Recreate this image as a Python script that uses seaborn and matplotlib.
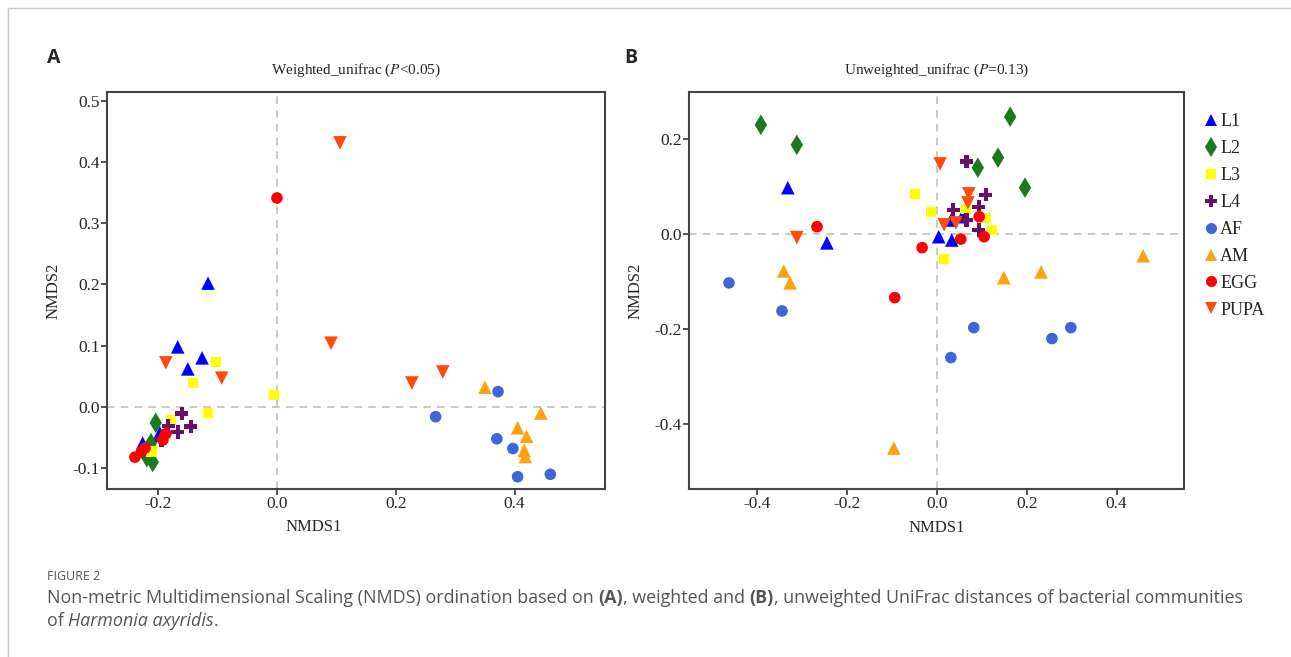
import numpy as np
import pandas as pd
import seaborn as sns
import matplotlib.pyplot as plt
from matplotlib.lines import Line2D

# groups and their look
groups = ["L1", "L2", "L3", "L4", "AF", "AM", "EGG", "PUPA"]
colors = ["#0000FF", "#1B7A1B", "#FFFF00", "#6A0F6E", "#3F66D8", "#FFA00F", "#FF0000", "#FF4A0A"]
marks = ["^", "d", "s", "P", "o", "^", "o", "v"]
msizes = [95, 110, 55, 90, 70, 95, 70, 95]

# panel A: weighted unifrac (NMDS1, NMDS2)
w_L1 = [(-0.116, 0.202), (-0.167, 0.098), (-0.150, 0.062), (-0.126, 0.080), (-0.197, -0.042), (-0.226, -0.059)]
w_L2 = [(-0.204, -0.026), (-0.212, -0.059), (-0.219, -0.082), (-0.209, -0.090)]
w_L3 = [(-0.103, 0.073), (-0.141, 0.039), (-0.116, -0.010), (-0.005, 0.020), (-0.178, -0.021), (-0.211, -0.073)]
w_L4 = [(-0.160, -0.011), (-0.145, -0.032), (-0.167, -0.041), (-0.183, -0.031), (-0.194, -0.054)]
w_AF = [(0.372, 0.025), (0.267, -0.016), (0.370, -0.052), (0.397, -0.068), (0.405, -0.114), (0.460, -0.110)]
w_AM = [(0.350, 0.032), (0.444, -0.010), (0.405, -0.034), (0.420, -0.048), (0.416, -0.071), (0.418, -0.081)]
w_EGG = [(0.000, 0.341), (-0.239, -0.082), (-0.228, -0.073), (-0.222, -0.067), (-0.192, -0.054), (-0.187, -0.044)]
w_PUPA = [(-0.187, 0.072), (-0.093, 0.047), (0.106, 0.431), (0.091, 0.104), (0.227, 0.039), (0.279, 0.057)]

# panel B: unweighted unifrac
u_L1 = [(-0.332, 0.097), (-0.245, -0.019), (0.004, -0.006), (0.033, -0.013), (0.031, 0.029), (0.056, 0.036)]
u_L2 = [(-0.392, 0.229), (-0.312, 0.187), (0.163, 0.246), (0.136, 0.160), (0.091, 0.139), (0.196, 0.097)]
u_L3 = [(-0.049, 0.084), (-0.013, 0.046), (0.016, -0.053), (0.109, 0.034), (0.122, 0.008), (0.065, 0.052)]
u_L4 = [(0.066, 0.152), (0.109, 0.082), (0.093, 0.057), (0.036, 0.050), (0.066, 0.029), (0.093, 0.008)]
u_AF = [(-0.463, -0.103), (-0.345, -0.162), (0.082, -0.197), (0.031, -0.260), (0.256, -0.220), (0.298, -0.197)]
u_AM = [(-0.341, -0.078), (-0.327, -0.103), (-0.096, -0.450), (0.149, -0.092), (0.232, -0.080), (0.459, -0.046)]
u_EGG = [(-0.267, 0.015), (-0.033, -0.029), (-0.094, -0.134), (0.053, -0.011), (0.105, -0.006), (0.094, 0.036)]
u_PUPA = [(-0.312, -0.008), (0.007, 0.147), (0.071, 0.084), (0.069, 0.065), (0.016, 0.019), (0.042, 0.023)]

weighted = [w_L1, w_L2, w_L3, w_L4, w_AF, w_AM, w_EGG, w_PUPA]
unweighted = [u_L1, u_L2, u_L3, u_L4, u_AF, u_AM, u_EGG, u_PUPA]


def to_frame(sets):
    rows = []
    for g, pts in zip(groups, sets):
        for x, y in pts:
            rows.append({"group": g, "NMDS1": x, "NMDS2": y})
    return pd.DataFrame(rows)


sns.set_theme(style="white")
plt.rcParams["font.family"] = ["Liberation Serif", "DejaVu Serif"]
plt.rcParams["mathtext.fontset"] = "stix"
serif = ["Liberation Serif", "DejaVu Serif"]

fig = plt.figure(figsize=(12.91, 6.57), dpi=100)
W, H = 1291, 657


def px_axes(l, t, r, b):
    return fig.add_axes([l / W, 1 - b / H, (r - l) / W, (b - t) / H])


axA = px_axes(107, 92, 605, 489)
axB = px_axes(689, 92, 1184, 489)

pal = dict(zip(groups, colors))
mk = dict(zip(groups, marks))
sz = dict(zip(groups, msizes))

panels = [
    (axA, to_frame(weighted), r"Weighted_unifrac ($\mathit{P}$<0.05)", (-0.286, 0.552), (-0.134, 0.514),
     [-0.2, 0.0, 0.2, 0.4], [-0.1, 0.0, 0.1, 0.2, 0.3, 0.4, 0.5]),
    (axB, to_frame(unweighted), r"Unweighted_unifrac ($\mathit{P}$=0.13)", (-0.552, 0.550), (-0.536, 0.298),
     [-0.4, -0.2, 0.0, 0.2, 0.4], [-0.4, -0.2, 0.0, 0.2]),
]

for ax, df, title, xl, yl, xt, yt in panels:
    ax.axhline(0, color="#BBBBBB", ls=(0, (5, 4)), lw=1.1, zorder=0)
    ax.axvline(0, color="#BBBBBB", ls=(0, (5, 4)), lw=1.1, zorder=0)
    sns.scatterplot(data=df, x="NMDS1", y="NMDS2", hue="group", style="group", size="group",
                    palette=pal, markers=mk, sizes=sz, hue_order=groups, style_order=groups,
                    size_order=groups, linewidth=0, legend=False, ax=ax, zorder=3)
    ax.set_xlim(*xl)
    ax.set_ylim(*yl)
    ax.set_xticks(xt)
    ax.set_yticks(yt)
    ax.set_xticklabels([f"{v:.1f}" for v in xt], family=serif, fontsize=12.5)
    ax.set_yticklabels([f"{v:.1f}" for v in yt], family=serif, fontsize=12.5)
    ax.set_title(title, fontsize=11, pad=13, family=serif)
    ax.set_xlabel("NMDS1", fontsize=12, labelpad=6, family=serif)
    ax.set_ylabel("NMDS2", fontsize=12, labelpad=8, family=serif)
    ax.tick_params(axis="both", direction="out", length=4, width=1.2, color="#333333",
                   pad=1, bottom=True, left=True)
    for sp in ax.spines.values():
        sp.set_color("#444444")
        sp.set_linewidth(1.5)

axA.xaxis.set_label_coords((314 - 107) / 498, -0.075)

# legend to the right of panel B
handles = [Line2D([], [], marker=m, color=c, ls="none", markersize=np.sqrt(s) * 0.95, markeredgewidth=0)
           for m, c, s in zip(marks, colors, msizes)]
fig.legend(handles, groups, loc="upper left", bbox_to_anchor=(1195 / W, 1 - 106 / H), frameon=False,
           prop={"family": serif, "size": 13}, handletextpad=0.0, handlelength=1.0,
           labelspacing=0.55, borderaxespad=0)

# panel letters
fig.text(47 / W, 1 - 58 / H, "A", fontsize=14, fontweight="bold", family="Open Sans", va="center")
fig.text(624 / W, 1 - 58 / H, "B", fontsize=14, fontweight="bold", family="Open Sans", va="center")

# card border
fig.add_artist(Line2D([8 / W, 8 / W], [0, 1 - 8 / H], color="#C8C8C8", lw=1, transform=fig.transFigure))
fig.add_artist(Line2D([8 / W, 1], [1 - 8 / H, 1 - 8 / H], color="#C8C8C8", lw=1, transform=fig.transFigure))

# caption
cap_kw = dict(family="Open Sans", color="#555555", va="center")
fig.text(47 / W, 1 - 577 / H, "FIGURE 2", fontsize=9, **cap_kw)


def text_runs(x, y, runs, size):
    r = fig.canvas.get_renderer()
    for s, weight, style in runs:
        t = fig.text(x, y, s, fontsize=size, fontweight=weight, fontstyle=style, **cap_kw)
        x += t.get_window_extent(renderer=r).width / W


text_runs(47 / W, 1 - 598 / H, [
    ("Non-metric Multidimensional Scaling (NMDS) ordination based on ", "normal", "normal"),
    ("(A)", "bold", "normal"),
    (", weighted and ", "normal", "normal"),
    ("(B)", "bold", "normal"),
    (", unweighted UniFrac distances of bacterial communities", "normal", "normal"),
], 12.9)
text_runs(47 / W, 1 - 621 / H, [
    ("of ", "normal", "normal"),
    ("Harmonia axyridis", "normal", "italic"),
    (".", "normal", "normal"),
], 12.9)

fig.savefig("out.png", dpi=100)
